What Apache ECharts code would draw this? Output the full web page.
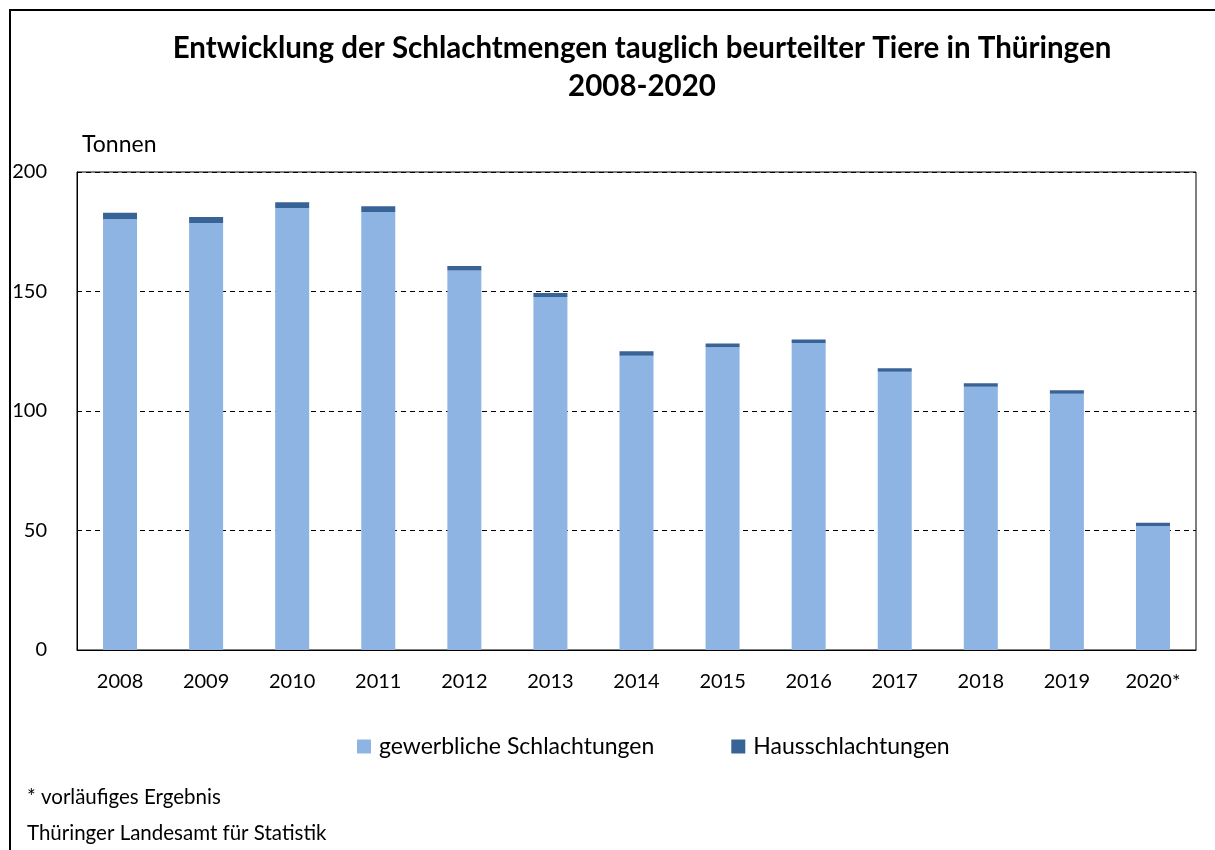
<!DOCTYPE html>
<html>
<head>
<meta charset="utf-8">
<script src="https://cdn.jsdelivr.net/npm/echarts@6/dist/echarts.min.js"></script>
<style>
  html, body { margin: 0; padding: 0; background: #fff; }
  #chart { width: 1215px; height: 850px; }
</style>
</head>
<body>
<div id="chart"></div>
<script>
// Jahre
var years = ['2008', '2009', '2010', '2011', '2012', '2013', '2014', '2015', '2016', '2017', '2018', '2019', '2020*'];
// gewerbliche Schlachtungen (Tonnen)
var gewerblich = [180.2, 178.7, 184.9, 183.3, 158.8, 147.7, 123.1, 126.7, 128.4, 116.4, 110.1, 107.2, 51.9];
// Hausschlachtungen (Tonnen)
var haus = [2.8, 2.5, 2.4, 2.4, 1.9, 1.7, 1.9, 1.5, 1.5, 1.5, 1.5, 1.5, 1.3];
var yTicks = [0, 50, 100, 150, 200];

var font = 'Lato';
var chart = echarts.init(document.getElementById('chart'));
var option = {
    animation: false,
    backgroundColor: '#fff',
    textStyle: { fontFamily: font },
    title: {
        text: 'Entwicklung der Schlachtmengen tauglich beurteilter Tiere in Thüringen\n2008-2020',
        left: 637,
        textAlign: 'center',
        top: 24,
        textStyle: { fontFamily: font, fontSize: 29.5, fontWeight: 'bold', color: '#000', lineHeight: 38 }
    },
    legend: {
        data: ['gewerbliche Schlachtungen', 'Hausschlachtungen'],
        left: 352,
        top: 730,
        itemWidth: 14,
        itemHeight: 14,
        itemGap: 77,
        icon: 'rect',
        textStyle: { fontFamily: font, fontSize: 23, color: '#000', padding: [0, 0, 0, 3] }
    },
    grid: {
        left: 77, right: 19, top: 172, bottom: 200,
        show: true, borderColor: '#000', borderWidth: 1
    },
    xAxis: {
        type: 'category',
        data: years,
        axisTick: { show: false },
        axisLine: { lineStyle: { color: '#000' } },
        axisLabel: { fontFamily: font, fontSize: 20, color: '#000', margin: 22 }
    },
    yAxis: {
        type: 'value',
        min: yTicks[0],
        max: yTicks[yTicks.length - 1],
        interval: 50,
        axisLine: { show: true, lineStyle: { color: '#000' } },
        axisTick: { show: false },
        axisLabel: { fontFamily: font, fontSize: 20, color: '#000', margin: 30 },
        splitLine: { lineStyle: { color: '#000', type: [5, 4] } }
    },
    series: [
        {
            name: 'gewerbliche Schlachtungen',
            type: 'bar',
            stack: 'gesamt',
            barWidth: 34,
            itemStyle: { color: '#8EB4E3' },
            data: gewerblich
        },
        {
            name: 'Hausschlachtungen',
            type: 'bar',
            stack: 'gesamt',
            barWidth: 34,
            itemStyle: { color: '#386397' },
            data: haus
        }
    ],
    graphic: [
        {
            type: 'rect',
            shape: { x: 10, y: 10, width: 1300, height: 1000 },
            style: { fill: 'none', stroke: '#000', lineWidth: 2 },
            silent: true
        },
        {
            type: 'text', left: 82, top: 133,
            style: { text: 'Tonnen', fontFamily: font, fontSize: 23, fill: '#000' }
        },
        {
            type: 'text', left: 27, top: 787,
            style: { text: '* vorläufiges Ergebnis', fontFamily: font, fontSize: 20.5, fill: '#000' }
        },
        {
            type: 'text', left: 27, top: 823,
            style: { text: 'Thüringer Landesamt für Statistik', fontFamily: font, fontSize: 20.5, fill: '#000' }
        }
    ]
};
chart.setOption(option);
</script>
</body>
</html>
